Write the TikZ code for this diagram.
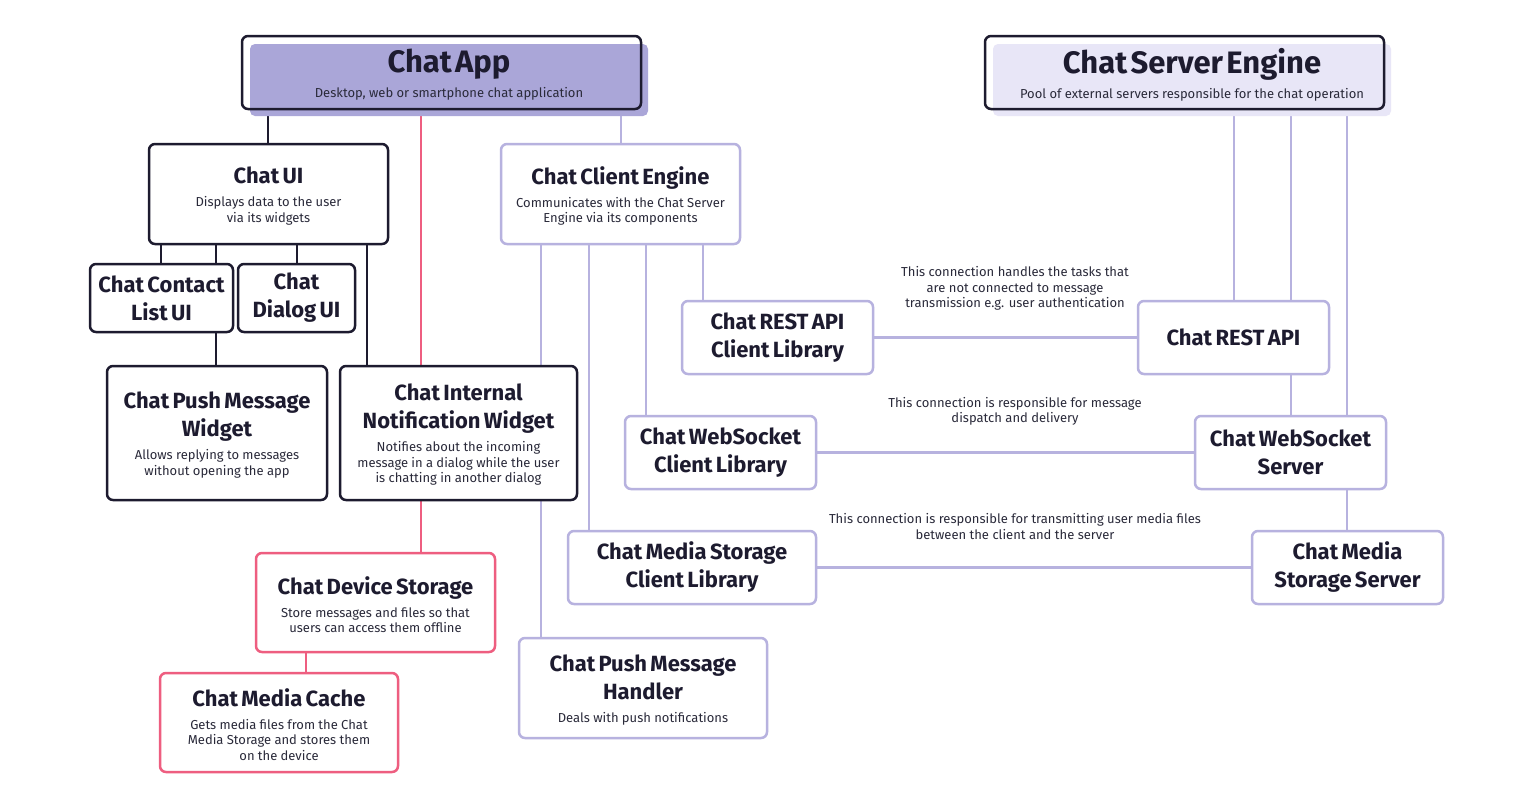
\documentclass[tikz,border=0pt]{standalone}
\usepackage{fontspec}
\setmainfont{Fira Sans}
\setlength\lineskiplimit{-1000pt}
\pgfdeclarelayer{background}
\pgfdeclarelayer{canvas}
\pgfsetlayers{canvas,background,main}
\definecolor{ink}{HTML}{1D1B2F}
\definecolor{lav}{HTML}{B7B2DF}
\definecolor{pinkred}{HTML}{EE5E80}
\definecolor{appfillc}{HTML}{AAA6D8}
\definecolor{srvfillc}{HTML}{E8E6F7}
\definecolor{desc}{HTML}{2A2A3A}
\newcommand\ttl{\fontsize{22}{28}\selectfont\bfseries}
\newcommand\bigttl{\fontsize{31}{34}\selectfont\bfseries}
\newcommand\dsc{\fontsize{13}{15.5}\selectfont\color{desc}}
\newcommand\bx[7]{%
  \pgfmathsetmacro\bw{#4-#2}\pgfmathsetmacro\bh{#5-#3}%
  \pgfmathsetmacro\tw{#4-#2-4}%
  \pgfmathsetmacro\bcx{(#2+#4)/2}\pgfmathsetmacro\bcy{(#3+#5)/2}%
  \node[#6, minimum width=\bw pt, minimum height=\bh pt, text width=\tw pt] (#1) at (\bcx,\bcy) {#7};}
\tikzset{
  boxbase/.style={rounded corners=6pt, line width=2.5pt, fill=white, inner sep=0pt, align=center, text=ink},
  blkbox/.style={boxbase, draw=ink},
  lavbox/.style={boxbase, draw=lav},
  redbox/.style={boxbase, draw=pinkred},
  headbox/.style={rounded corners=6pt, line width=2.5pt, draw=ink, inner sep=0pt},
  headfill/.style={rounded corners=5pt, inner sep=0pt, draw=none, align=center, text=ink, text width=390pt},
  blkline/.style={line width=2.5pt, draw=ink},
  lavline/.style={line width=2.5pt, draw=lav},
  redline/.style={line width=2.5pt, draw=pinkred},
  note/.style={align=center, inner sep=0pt, font=\fontsize{13}{15.5}\selectfont, text=desc},
}
\newcommand\vcon[4]{\draw[#1] (#2.south -| #4,0) -- (#3.north -| #4,0);}
\newcommand\withdesc[2]{{\ttl #1\par}\vspace{7.5pt}{\dsc #2\par}\vspace{-4pt}}
\newcommand\onlyttl[1]{{\ttl #1\par}}
\newcommand\headtext[2]{{\bigttl #1\par}\vspace{6.5pt}{\fontsize{13}{15.5}\selectfont\color{desc} #2\par}\vspace{10.6pt}}
\begin{document}
\begin{tikzpicture}[x=1pt,y=-1pt]
\begin{pgfonlayer}{canvas}
\fill[white] (0,0) rectangle (1540,796);
\end{pgfonlayer}
\useasboundingbox (0,0) rectangle (1540,796);
% header fills (with texts)
\node[headfill, fill=appfillc, minimum width=398pt, minimum height=72pt] (appfill) at (449,80)
  {\headtext{Chat App}{Desktop, web or smartphone chat application}};
\node[headfill, fill=srvfillc, minimum width=398pt, minimum height=72pt] (srvfill) at (1192,80)
  {\headtext{Chat Server Engine}{Pool of external servers responsible for the chat operation}};
% header outlines
\node[headbox, minimum width=399pt, minimum height=73pt] (app) at (441.5,72.5) {};
\node[headbox, minimum width=399pt, minimum height=73pt] (srv) at (1184.5,72.5) {};
% boxes
\bx{ui}{149}{144}{388}{244}{blkbox}{\withdesc{Chat UI}{Displays data to the user\par via its widgets}}
\bx{contact}{90}{264}{233}{332}{blkbox}{\onlyttl{Chat Contact\par List UI}}
\bx{dialog}{238}{264}{355}{332}{blkbox}{\onlyttl{Chat\par Dialog UI}}
\bx{pmw}{107}{366}{327}{500}{blkbox}{\withdesc{Chat Push Message\par Widget}{Allows replying to messages\par without opening the app}}
\bx{inw}{340}{366}{577}{500}{blkbox}{\withdesc{Chat Internal\par Notification Widget}{Notifies about the incoming\par message in a dialog while the user\par is chatting in another dialog}}
\bx{dev}{256}{553}{495}{652}{redbox}{\withdesc{Chat Device Storage}{Store messages and files so that\par users can access them offline}}
\bx{cache}{160}{673}{398}{772}{redbox}{\withdesc{Chat Media Cache}{Gets media files from the Chat\par Media Storage and stores them\par on the device}}
\bx{ce}{501}{144}{740}{244}{lavbox}{\withdesc{Chat Client Engine}{Communicates with the Chat Server\par Engine via its components}}
\bx{restc}{682}{301}{873}{374}{lavbox}{\onlyttl{Chat REST API\par Client Library}}
\bx{wsc}{625}{416}{816}{489}{lavbox}{\onlyttl{Chat WebSocket\par Client Library}}
\bx{msc}{568}{531}{816}{604}{lavbox}{\onlyttl{Chat Media Storage\par Client Library}}
\bx{pmh}{519}{638}{767}{738}{lavbox}{\withdesc{Chat Push Message\par Handler}{Deals with push notifications}}
\bx{rests}{1138}{301}{1329}{374}{lavbox}{\onlyttl{Chat REST API}}
\bx{wss}{1195}{416}{1386}{489}{lavbox}{\onlyttl{Chat WebSocket\par Server}}
\bx{mss}{1252}{531}{1443}{604}{lavbox}{\onlyttl{Chat Media\par Storage Server}}
% notes
\node[note] (n1) at (1015,288.5) {This connection handles the tasks that\\are not connected to message\\transmission e.g. user authentication};
\node[note] (n2) at (1015,411.5) {This connection is responsible for message\\dispatch and delivery};
\node[note] (n3) at (1015,526.5) {This connection is responsible for transmitting user media files\\between the client and the server};
% connectors
\begin{pgfonlayer}{background}
\vcon{blkline}{appfill}{ui}{268}
\vcon{blkline}{ui}{contact}{161}
\vcon{blkline}{ui}{contact}{216}
\vcon{blkline}{ui}{dialog}{297}
\vcon{blkline}{ui}{inw}{367}
\vcon{blkline}{contact}{pmw}{216}
\vcon{redline}{appfill}{dev}{421}
\vcon{redline}{dev}{cache}{306}
\vcon{lavline}{appfill}{ce}{621}
\vcon{lavline}{ce}{pmh}{541}
\vcon{lavline}{ce}{msc}{589}
\vcon{lavline}{ce}{wsc}{646}
\vcon{lavline}{ce}{restc}{703}
\vcon{lavline}{srvfill}{rests}{1234}
\vcon{lavline}{srvfill}{rests}{1291}
\vcon{lavline}{rests}{wss}{1291}
\vcon{lavline}{srvfill}{wss}{1347}
\vcon{lavline}{wss}{mss}{1347}
\draw[lavline] (restc.east) -- (rests.west);
\draw[lavline] (wsc.east) -- (wss.west);
\draw[lavline] (msc.east) -- (mss.west);
\end{pgfonlayer}
\end{tikzpicture}
\end{document}
